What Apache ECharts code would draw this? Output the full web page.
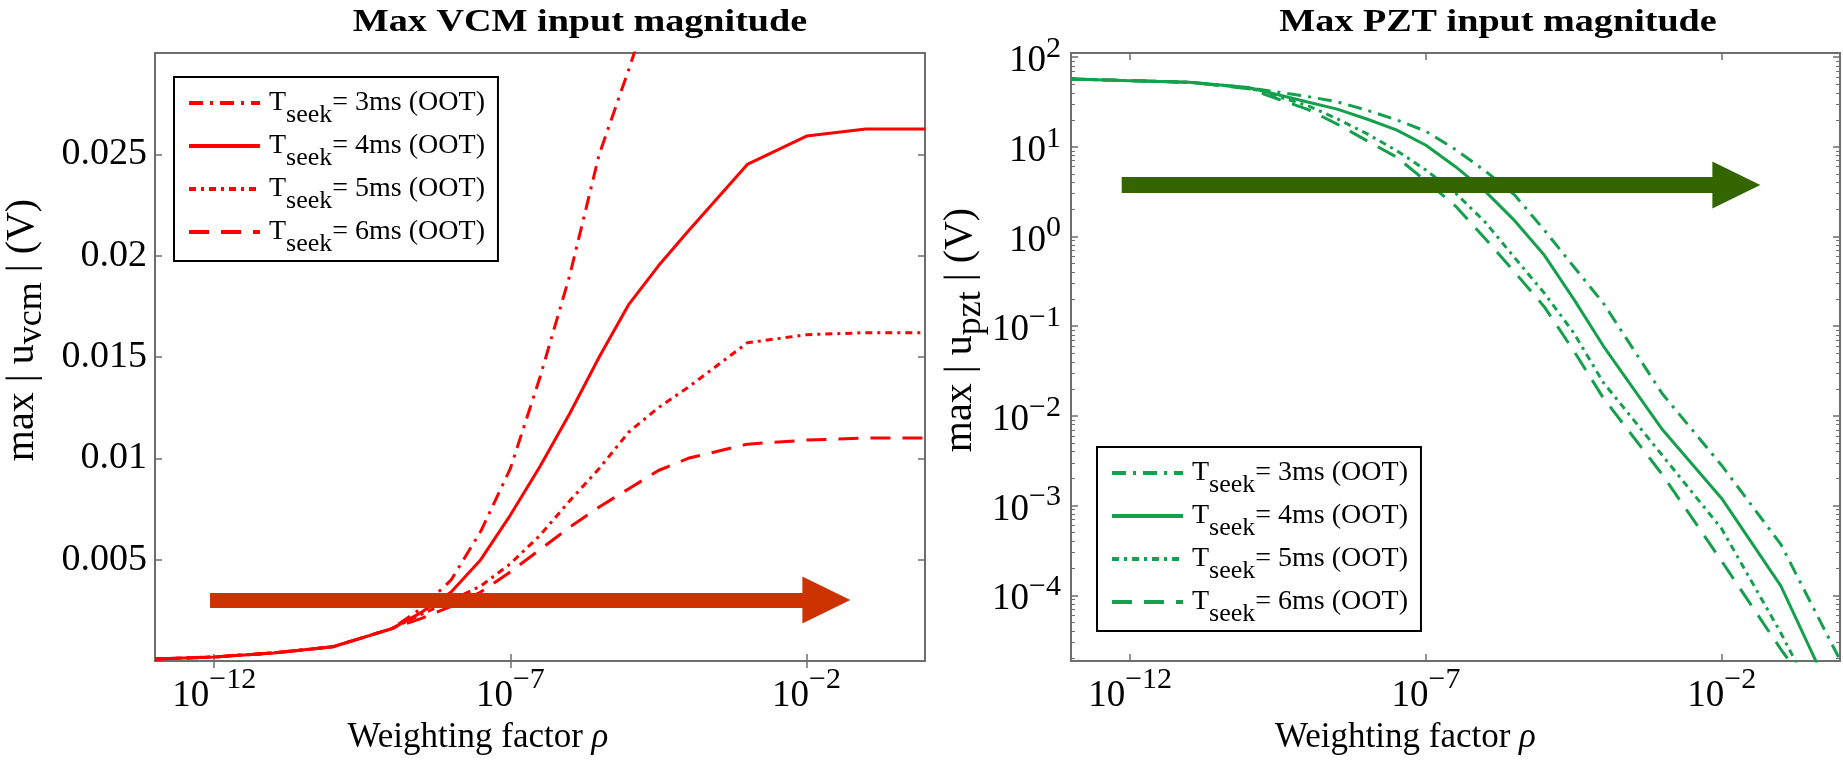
<!DOCTYPE html>
<html>
<head>
<meta charset="utf-8">
<title>Max VCM / PZT input magnitude</title>
<script src="https://cdn.jsdelivr.net/npm/echarts@6/dist/echarts.min.js"></script>
<style>
  html, body { margin: 0; padding: 0; background: #fff; }
  #chart { width: 1843px; height: 760px; }
</style>
</head>
<body>
<div id="chart"></div>
<script>
// weighting factor rho, same grid for both panels
var rho = [1e-13, 1e-12, 1e-11, 1e-10, 1e-9, 3.16e-9, 1e-8, 3.16e-8, 1e-7, 3.16e-7,
           1e-6, 3.16e-6, 1e-5, 3.16e-5, 1e-4, 1e-3, 1e-2, 1e-1, 1];

// max |u_vcm| (V)
var vcm3ms = [0.0001, 0.0002, 0.0004, 0.0007, 0.0016, 0.0026, 0.0040, 0.0064, 0.0095, 0.0140,
              0.0190, 0.0250, 0.0292, 0.0336, 0.0380, null, null, null, null];
var vcm4ms = [0.0001, 0.0002, 0.0004, 0.0007, 0.0016, 0.0024, 0.0034, 0.0050, 0.0072, 0.0096,
              0.0122, 0.0150, 0.0176, 0.0195, 0.0212, 0.0245, 0.0259, 0.02625, 0.02625];
var vcm5ms = [0.0001, 0.0002, 0.0004, 0.0007, 0.0016, 0.0023, 0.0030, 0.0037, 0.0048, 0.0062,
              0.0079, 0.0095, 0.0113, 0.0125, 0.0135, 0.0157, 0.0161, 0.0162, 0.0162];
var vcm6ms = [0.0001, 0.0002, 0.0004, 0.0007, 0.0016, 0.0021, 0.0027, 0.0034, 0.0044, 0.0055,
              0.0066, 0.0076, 0.0085, 0.0094, 0.0100, 0.0107, 0.0109, 0.0110, 0.0110];

// max |u_pzt| (V)
var pzt3ms = [56.9, 54.6, 52.4, 45.5, 36.3, 31.7, 25.6, 20.0, 14.9, 9.3,
              5.4, 2.9, 1.18, 0.46, 0.18, 0.0175, 0.0028, 3.7e-4, 1.9e-5];
var pzt4ms = [56.9, 54.6, 52.4, 45.7, 31.5, 26.3, 20.4, 15.4, 10.4, 6.0,
              3.2, 1.5, 0.62, 0.2, 0.06, 0.0070, 0.0012, 1.27e-4, 4.9e-6];
var pzt5ms = [56.9, 54.6, 52.4, 45.5, 28.8, 20.5, 14.0, 9.1, 5.5, 3.05,
              1.45, 0.58, 0.234, 0.084, 0.0235, 0.0036, 5.5e-4, 3.8e-5, 2.0e-6];
var pzt6ms = [56.9, 54.6, 52.4, 44.4, 26.1, 17.9, 11.7, 7.7, 4.15, 2.18,
              0.95, 0.40, 0.165, 0.053, 0.0158, 0.0022, 2.4e-4, 2.5e-5, 3.2e-6];

var seekTimes = ['3ms', '4ms', '5ms', '6ms'];
var xTicks = [1e-12, 1e-7, 1e-2];
var pztTicks = [1e-4, 1e-3, 1e-2, 1e-1, 1, 10, 100];

var FONT = 'Liberation Serif';
var AXIS_GRAY = '#6e6e6e';
var RED = '#ff0000';
var GREEN = '#14a04c';

// minor log ticks 2..9 per decade
var pztMinor = [];
for (var k = -5; k <= 2; k++) {
  for (var m = 2; m <= 9; m++) pztMinor.push(m * Math.pow(10, k));
}

function powLabel(v) {
  var e = Math.round(Math.log10(v));
  return '{b|10}{e|' + (e < 0 ? '\u2212' + (-e) : e) + '}';
}
function powRich(lh) {
  return {
    b: { fontFamily: FONT, fontSize: 37, lineHeight: lh, verticalAlign: 'bottom', color: '#000' },
    e: { fontFamily: FONT, fontSize: 30, lineHeight: 30, verticalAlign: 'top', color: '#000' }
  };
}

var legendRich = {
  T: { fontFamily: FONT, fontSize: 28, lineHeight: 50, verticalAlign: 'middle', color: '#000', padding: [0, 0, 0, 4] },
  t: { fontFamily: FONT, fontSize: 28, lineHeight: 50, verticalAlign: 'middle', color: '#000' },
  s: { fontFamily: FONT, fontSize: 26, lineHeight: 50, verticalAlign: 'bottom', color: '#000' }
};
function legendText(name) {
  var i = +name.slice(-1) - 3;
  return '{T|T}{s|seek}{t|= ' + seekTimes[i] + ' (OOT)}';
}

function pairs(ys) {
  return rho.map(function (r, i) { return [r, ys[i]]; });
}

function xAxisCfg(grid, pos, name, namePad) {
  var bottom = pos === 'bottom';
  return {
    type: 'log', logBase: 10, gridIndex: grid, position: pos, min: 1e-13, max: 1,
    axisLine: { show: true, lineStyle: { color: AXIS_GRAY, width: 2 } },
    axisTick: { show: true, inside: true, length: 7, customValues: xTicks,
                lineStyle: { color: AXIS_GRAY, width: 1.5 } },
    axisLabel: { show: bottom, customValues: xTicks, formatter: powLabel, rich: powRich(50), margin: 4 },
    splitLine: { show: false },
    minorTick: { show: false },
    name: bottom ? name : '',
    nameLocation: 'middle', nameGap: 47,
    nameTextStyle: {
      padding: [0, namePad, 0, 0],
      rich: {
        n: { fontFamily: FONT, fontSize: 35, lineHeight: 42, color: '#000' },
        i: { fontFamily: FONT, fontSize: 35, lineHeight: 42, fontStyle: 'italic', color: '#000' }
      }
    }
  };
}

var yNameRich = {
  n: { fontFamily: FONT, fontSize: 40, lineHeight: 48, verticalAlign: 'top', color: '#000' },
  s: { fontFamily: FONT, fontSize: 36, lineHeight: 48, verticalAlign: 'bottom', color: '#000' }
};

function lineSeries(name, xi, yi, ys, color, dash) {
  return {
    name: name, type: 'line', xAxisIndex: xi, yAxisIndex: yi,
    data: pairs(ys), symbol: 'none', showSymbol: false, connectNulls: false,
    silent: true, clip: true,
    lineStyle: { color: color, width: 3, type: dash, cap: 'butt' },
    itemStyle: { color: color },
    emphasis: { disabled: true }
  };
}

function arrow(color, width, from, to, y) {
  return {
    silent: true, symbol: ['none', 'triangle'], symbolSize: [47, 48],
    label: { show: false }, emphasis: { disabled: true },
    lineStyle: { color: color, width: width, type: 'solid', opacity: 1 },
    itemStyle: { color: color },
    data: [[{ coord: [from, y] }, { coord: [to, y] }]]
  };
}

var dashes = {
  '3': [14, 7, 3, 7],
  '4': 'solid',
  '5': [7, 5, 3, 5],
  '6': [20, 12]
};

var vcmSeries = [
  lineSeries('vcm3', 0, 0, vcm3ms, RED, dashes['3']),
  lineSeries('vcm4', 0, 0, vcm4ms, RED, dashes['4']),
  lineSeries('vcm5', 0, 0, vcm5ms, RED, dashes['5']),
  lineSeries('vcm6', 0, 0, vcm6ms, RED, dashes['6'])
];
vcmSeries[3].markLine = arrow('#cc3300', 15, 8.5e-13, 0.0216, 0.00301);

var pztSeries = [
  lineSeries('pzt3', 2, 2, pzt3ms, GREEN, dashes['3']),
  lineSeries('pzt4', 2, 2, pzt4ms, GREEN, dashes['4']),
  lineSeries('pzt5', 2, 2, pzt5ms, GREEN, dashes['5']),
  lineSeries('pzt6', 2, 2, pzt6ms, GREEN, dashes['6'])
];
pztSeries[3].markLine = arrow('#336600', 16, 7.2e-13, 0.0177, 3.74);

function legendCfg(names, left, top) {
  return {
    data: names, left: left, top: top, orient: 'vertical',
    itemWidth: 71, itemHeight: 14, itemGap: 4,
    padding: [12, 13, 4, 13], borderColor: '#000', borderWidth: 2,
    backgroundColor: '#fff', selectedMode: false,
    formatter: legendText,
    lineStyle: { width: 4 },
    itemStyle: { opacity: 0 },
    textStyle: { rich: legendRich }
  };
}

// panel titles are stretched horizontally in the original figure
function titleText(text, x) {
  return {
    type: 'text', x: x, y: 23, scaleX: 1.23, silent: true,
    style: { text: text, fill: '#000', font: 'bold 31px "Liberation Serif"',
             textAlign: 'center', textVerticalAlign: 'middle' }
  };
}

var chart = echarts.init(document.getElementById('chart'), null, { renderer: 'canvas' });
chart.setOption({
  animation: false,
  backgroundColor: '#fff',
  graphic: [
    titleText('Max VCM input magnitude', 580),
    titleText('Max PZT input magnitude', 1498)
  ],
  grid: [
    { left: 155, top: 53, width: 770, height: 608, show: true, borderColor: AXIS_GRAY, borderWidth: 2,
      backgroundColor: '#fff', containLabel: false, outerBoundsMode: 'none' },
    { left: 1071, top: 53, width: 769, height: 608, show: true, borderColor: AXIS_GRAY, borderWidth: 2,
      backgroundColor: '#fff', containLabel: false, outerBoundsMode: 'none' }
  ],
  legend: [
    legendCfg(['vcm3', 'vcm4', 'vcm5', 'vcm6'], 174, 77),
    legendCfg(['pzt3', 'pzt4', 'pzt5', 'pzt6'], 1097, 447)
  ],
  xAxis: [
    xAxisCfg(0, 'bottom', '{n|Weighting factor }{i|\u03c1}', 124),
    xAxisCfg(0, 'top', '', 0),
    xAxisCfg(1, 'bottom', '{n|Weighting factor }{i|\u03c1}', 100),
    xAxisCfg(1, 'top', '', 0)
  ],
  yAxis: [
    {
      type: 'value', gridIndex: 0, position: 'left', min: 0, max: 0.03, interval: 0.005,
      axisLine: { show: true, lineStyle: { color: AXIS_GRAY, width: 2 } },
      axisTick: { show: true, inside: true, length: 7, lineStyle: { color: AXIS_GRAY, width: 1.5 } },
      axisLabel: { showMinLabel: false, showMaxLabel: false, margin: 8,
                   fontFamily: FONT, fontSize: 38, color: '#000' },
      splitLine: { show: false },
      name: '{n|max | u}{s|vcm}{n| | (V)}', nameLocation: 'middle', nameRotate: 90, nameGap: 105,
      nameTextStyle: { rich: yNameRich, padding: [0, 0, 0, 54] }
    },
    {
      type: 'value', gridIndex: 0, position: 'right', min: 0, max: 0.03, interval: 0.005,
      axisLine: { show: true, lineStyle: { color: AXIS_GRAY, width: 2 } },
      axisTick: { show: true, inside: true, length: 7, lineStyle: { color: AXIS_GRAY, width: 1.5 } },
      axisLabel: { show: false }, splitLine: { show: false }
    },
    {
      type: 'log', logBase: 10, gridIndex: 1, position: 'left', min: 1.85e-5, max: 111,
      axisLine: { show: true, lineStyle: { color: AXIS_GRAY, width: 2 } },
      axisTick: { show: true, inside: true, length: 7, customValues: pztTicks,
                  lineStyle: { color: AXIS_GRAY, width: 1.5 } },
      axisLabel: { customValues: pztTicks, formatter: powLabel, rich: powRich(46), margin: 10 },
      splitLine: { show: false }, minorTick: { show: false },
      name: '{n|max | u}{s|pzt}{n| | (V)}', nameLocation: 'middle', nameRotate: 90, nameGap: 77,
      nameTextStyle: { rich: yNameRich, padding: [0, 0, 0, 54] }
    },
    {
      type: 'log', logBase: 10, gridIndex: 1, position: 'right', min: 1.85e-5, max: 111,
      axisLine: { show: true, lineStyle: { color: AXIS_GRAY, width: 2 } },
      axisTick: { show: true, inside: true, length: 7, customValues: pztTicks,
                  lineStyle: { color: AXIS_GRAY, width: 1.5 } },
      axisLabel: { show: false }, splitLine: { show: false }
    },
    {
      type: 'log', logBase: 10, gridIndex: 1, position: 'left', min: 1.85e-5, max: 111,
      axisLine: { show: false },
      axisTick: { show: true, inside: true, length: 4, customValues: pztMinor,
                  lineStyle: { color: AXIS_GRAY, width: 1 } },
      axisLabel: { show: false }, splitLine: { show: false }
    },
    {
      type: 'log', logBase: 10, gridIndex: 1, position: 'right', min: 1.85e-5, max: 111,
      axisLine: { show: false },
      axisTick: { show: true, inside: true, length: 4, customValues: pztMinor,
                  lineStyle: { color: AXIS_GRAY, width: 1 } },
      axisLabel: { show: false }, splitLine: { show: false }
    }
  ],
  series: vcmSeries.concat(pztSeries)
});
</script>
</body>
</html>
